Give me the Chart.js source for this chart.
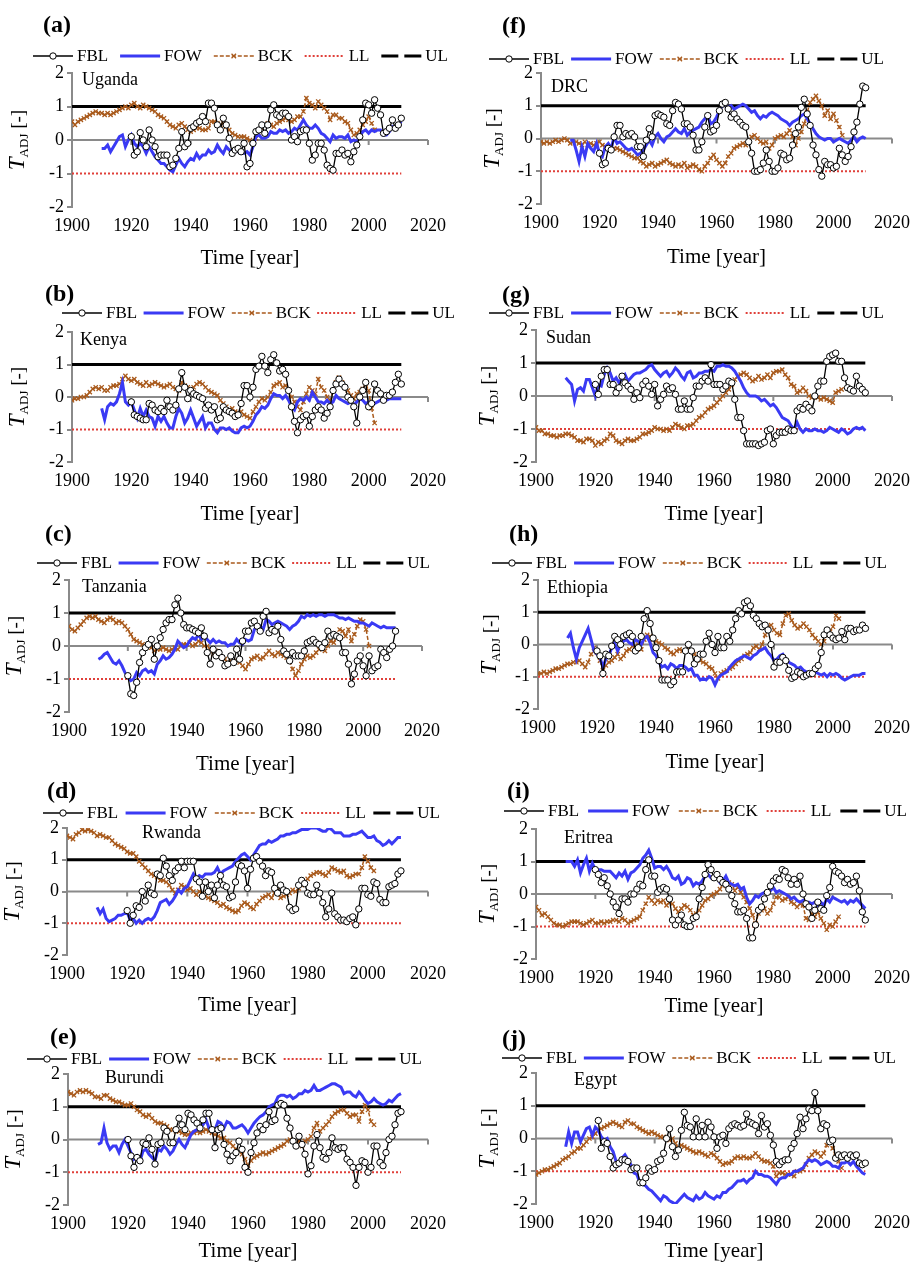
<!DOCTYPE html>
<html>
<head>
<meta charset="utf-8">
<script src="https://cdn.jsdelivr.net/npm/chart.js@4.4.1/dist/chart.umd.min.js"></script>
<style>
  html, body { margin: 0; padding: 0; background: #fff; }
  #page { position: relative; width: 918px; height: 1264px; overflow: hidden; }
  #page canvas { position: absolute; }
</style>
</head>
<body>
<div id="page"></div>
<script>
// ---- data ----
const PANEL_LETTERS = ['a', 'b', 'c', 'd', 'e', 'f', 'g', 'h', 'i', 'j'];
const COUNTRIES = ['Uganda', 'Kenya', 'Tanzania', 'Rwanda', 'Burundi', 'DRC', 'Sudan', 'Ethiopia', 'Eritrea', 'Egypt'];
const SERIES_NAMES = ['FBL', 'FOW', 'BCK', 'LL', 'UL'];
const X_TICKS = [1900, 1920, 1940, 1960, 1980, 2000, 2020];
const Y_TICKS = [-2, -1, 0, 1, 2];

const FBL_START = [1920, 1920, 1920, 1920, 1920, 1920, 1920, 1920, 1920, 1921];
const FOW_START = 1910;
const BCK_START = 1900;
const LIMIT_YEARS = [1900, 2011];
const LL_VALUES = [-1, -1];
const UL_VALUES = [1, 1];

const UGANDA_FBL = [
  0.1, -0.45, -0.35, 0.22, 0.0, -0.2, 0.3, 0.0, -0.2, -0.5,
  -0.45, -0.45, -0.45, -0.8, -0.75, -0.55, -0.25, 0.25, -0.2, -0.1,
  0.35, 0.4, 0.5, 0.55, 0.7, 0.55, 1.1, 1.1, 0.95, 0.45,
  0.3, 0.65, 0.45, 0.05, -0.4, -0.3, -0.25, -0.35, -0.1, -0.8,
  -0.7, -0.1, 0.25, 0.3, 0.45, 0.2, 0.45, 0.9, 1.05, 0.75,
  0.7, 0.8, 0.8, 0.7, 0.0, 0.1, -0.05, 0.25, 0.3, 0.3,
  -0.1, -0.6, -0.45, -0.1, -0.1, -0.3, -0.75, -0.85, -0.9, -0.4,
  -0.4, -0.3, -0.45, -0.4, -0.65, -0.35, -0.15, 0.1, 0.6, 1.1,
  1.05, 0.8, 1.2, 0.95, 0.75, 0.2, 0.25, 0.35, 0.6, 0.35,
  0.45, 0.65];
const UGANDA_FOW = [
  -0.25, -0.25, -0.15, -0.35, -0.2, -0.05, 0.1, 0.15, -0.2, 0.0,
  0.15, -0.1, -0.2, -0.1, -0.2, -0.4, -0.2, -0.35, -0.5, -0.6,
  -0.7, -0.7, -0.8, -0.9, -0.95, -0.75, -0.55, -0.7, -0.8, -0.65,
  -0.55, -0.6, -0.4, -0.55, -0.45, -0.45, -0.3, -0.4, -0.35, -0.15,
  -0.3, -0.4, -0.2, -0.3, -0.35, -0.3, -0.35, -0.35, -0.4, -0.35,
  -0.45, -0.2, 0.1, 0.15, 0.05, 0.05, 0.1, 0.25, 0.2, 0.2,
  0.3, 0.25, 0.3, 0.2, 0.25, 0.35, 0.3, 0.45, 0.6, 0.45,
  0.35, 0.35, 0.45, 0.35, 0.2, 0.15, 0.05, -0.05, 0.15, 0.05,
  0.1, 0.1, 0.05, 0.15, -0.05, 0.0, -0.05, 0.1, 0.25, 0.3,
  0.2, 0.3, 0.25, 0.3, 0.3, 0.15, 0.15, 0.25, 0.4, 0.35,
  0.45, 0.55];
const UGANDA_BCK = [
  0.55, 0.45, 0.55, 0.6, 0.65, 0.7, 0.75, 0.8, 0.85, 0.8,
  0.8, 0.75, 0.8, 0.75, 0.8, 0.85, 0.9, 0.95, 1.0, 0.95,
  1.05, 1.1, 1.0, 0.95, 1.05, 1.0, 0.95, 0.9, 0.85, 0.75,
  0.7, 0.65, 0.55, 0.45, 0.4, 0.35, 0.45, 0.5, 0.4, 0.3,
  0.25, 0.3, 0.35, 0.35, 0.3, 0.3, 0.35, 0.55, 0.55, 0.5,
  0.45, 0.5, 0.4, 0.3, 0.2, 0.15, 0.1, 0.1, 0.1, 0.05,
  0.0, -0.1, 0.05, 0.2, 0.35, 0.45, 0.5, 0.45, 0.4, 0.5,
  0.55, 0.6, 0.65, 0.6, 0.55, 0.6, 0.7, 0.7, 0.85, 1.25,
  1.1, 1.05, 0.95, 1.15, 1.05, 0.95, 0.85, 0.6, 0.75, 0.75,
  0.65, 0.65, 0.55, 0.5, 0.3, 0.15, 0.2, 0.3, 0.45, 0.55,
  0.7, 0.5, 0.3];

const KENYA_FBL = [
  -0.15, -0.55, -0.6, -0.65, -0.7, -0.7, -0.2, -0.25, -0.4, -0.45,
  -0.35, -0.45, -0.1, -0.3, -0.4, -0.25, 0.25, 0.75, 0.3, -0.05,
  0.2, 0.1, 0.05, 0.0, -0.05, -0.35, -0.25, -0.4, -0.3, -0.7,
  -0.65, -0.3, -0.4, -0.45, -0.5, -0.6, -0.55, -0.2, 0.35, 0.35,
  0.0, 0.3, 0.85, 0.95, 1.25, 0.95, 0.75, 1.15, 1.3, 1.05,
  0.8, 0.85, 0.7, 0.2, -0.3, -0.75, -1.1, -0.7, -0.6, -0.55,
  -0.9, -0.6, -0.4, -0.3, -0.4, -0.65, -0.5, -0.3, 0.2, 0.4,
  0.55, 0.4, 0.3, 0.0, -0.1, -0.3, -0.8, 0.0, 0.2, 0.45,
  -0.3, -0.2, 0.4, 0.2, 0.1, -0.1, 0.05, 0.05, 0.15, 0.45,
  0.7, 0.4];
const KENYA_FOW = [
  -0.35, -0.7, -0.3, -0.2, -0.25, -0.15, 0.1, 0.45, -0.15, -0.25,
  -0.15, -0.4, -0.65, -0.35, -0.6, -0.4, -0.6, -0.65, -0.9, -0.6,
  -0.75, -0.6, -0.8, -0.95, -0.95, -0.6, -0.35, -0.5, -0.8, -0.65,
  -0.4, -0.65, -0.9, -0.75, -0.6, -0.95, -0.8, -0.8, -1.0, -1.1,
  -0.95, -0.95, -1.0, -0.95, -1.05, -1.1, -1.1, -0.95, -0.9, -0.95,
  -0.9, -0.75, -0.55, -0.45, -0.3, -0.35, -0.25, -0.05, 0.1, 0.05,
  0.05, -0.05, 0.05, -0.1, -0.3, -0.4, -0.15, -0.05, -0.1, 0.0,
  -0.1, 0.15, 0.0, -0.15, -0.15, -0.2, -0.1, -0.2, -0.15, 0.05,
  -0.05, -0.1, -0.15, -0.2, -0.15, -0.25, -0.15, -0.05, -0.1, -0.2,
  -0.15, -0.2, -0.2, -0.15, -0.1, -0.15, -0.1, -0.05, -0.05, -0.05,
  -0.05, -0.05];
const KENYA_BCK = [
  -0.1, -0.05, -0.05, 0.0, 0.0, 0.05, 0.15, 0.25, 0.3, 0.25,
  0.3, 0.2, 0.2, 0.3, 0.35, 0.35, 0.4, 0.55, 0.65, 0.55,
  0.5, 0.55, 0.45, 0.4, 0.35, 0.45, 0.35, 0.4, 0.45, 0.4,
  0.35, 0.3, 0.35, 0.4, 0.3, 0.25, 0.2, 0.45, 0.35, 0.3,
  0.25, 0.3, 0.4, 0.45, 0.4, 0.3, 0.2, 0.15, 0.1, 0.05,
  -0.1, -0.2, -0.3, -0.4, -0.35, -0.45, -0.5, -0.45, -0.55, -0.6,
  -0.65, -0.45, -0.3, -0.15, -0.05, -0.1, 0.0, 0.15, 0.35, 0.4,
  0.45, 0.3, 0.35, 0.2, 0.0, -0.15, -0.3, -0.4, -0.15, 0.1,
  0.3, 0.2, 0.1, 0.55, 0.3, 0.2, 0.0, -0.1, 0.2, 0.45,
  0.6, 0.45, 0.3, 0.2, 0.05, -0.05, 0.1, 0.15, 0.25, 0.4,
  0.2, -0.35, -0.8];

const TANZANIA_FBL = [
  -0.9, -1.45, -1.5, -1.1, -0.5, -0.2, -0.05, 0.05, 0.2, -0.4,
  0.0, 0.25, 0.5, 0.7, 0.8, 0.8, 1.25, 1.45, 1.0, 0.65,
  0.55, 0.55, 0.5, 0.45, 0.4, 0.55, 0.3, -0.2, -0.55, -0.1,
  -0.3, -0.2, -0.35, -0.6, -0.55, -0.3, -0.5, -0.1, -0.4, 0.15,
  0.45, 0.45, 0.7, 0.75, 0.6, 0.45, 0.9, 1.05, 0.4, 0.5,
  0.45, 0.6, 0.2, -0.15, -0.25, -0.45, -0.2, -0.3, -0.3, -0.3,
  -0.15, 0.1, 0.15, 0.2, 0.1, 0.05, -0.05, 0.1, 0.45, 0.3,
  0.35, 0.3, 0.25, -0.2, -0.2, -0.55, -1.15, -0.85, -0.45, -0.3,
  -0.6, -0.9, -0.3, -0.75, -0.65, -0.6, -0.1, -0.2, -0.35, -0.1,
  0.0, 0.45];
const TANZANIA_FOW = [
  -0.4, -0.35, -0.25, -0.2, -0.35, -0.5, -0.55, -0.45, -0.6, -0.8,
  -0.95, -1.05, -1.0, -0.8, -0.9, -0.75, -0.7, -0.8, -0.75, -0.85,
  -0.55, -0.45, -0.3, -0.4, -0.35, -0.25, -0.1, 0.15, 0.05, -0.05,
  0.0, 0.15, 0.25, 0.2, 0.35, 0.2, 0.3, 0.2, 0.1, 0.2,
  0.1, 0.15, 0.1, 0.1, 0.0, 0.05, 0.05, 0.2, 0.1, 0.05,
  0.2, 0.15, 0.2, 0.5, 0.55, 0.6, 0.5, 0.8, 0.75, 0.65,
  0.7, 0.75, 0.7, 0.65, 0.6, 0.5, 0.6, 0.65, 0.75, 0.9,
  0.85, 0.95, 0.9, 0.95, 0.9, 0.95, 0.95, 0.9, 0.95, 0.95,
  0.95, 0.9, 0.85, 0.85, 0.8, 0.85, 0.8, 0.75, 0.75, 0.7,
  0.7, 0.65, 0.6, 0.7, 0.65, 0.6, 0.55, 0.6, 0.55, 0.55,
  0.55, 0.55];
const TANZANIA_BCK = [
  0.6, 0.5, 0.45, 0.55, 0.65, 0.75, 0.85, 0.9, 0.85, 0.9,
  0.8, 0.75, 0.7, 0.8, 0.85, 0.8, 0.7, 0.75, 0.7, 0.6,
  0.5, 0.35, 0.2, 0.15, 0.1, 0.05, 0.0, 0.05, -0.05, -0.15,
  -0.1, -0.1, -0.05, -0.1, -0.15, -0.1, -0.05, -0.1, 0.0, 0.05,
  0.05, 0.1, 0.0, 0.05, 0.15, 0.1, 0.0, 0.0, -0.1, -0.25,
  -0.15, -0.25, -0.35, -0.4, -0.5, -0.45, -0.5, -0.45, -0.5, -0.6,
  -0.7, -0.55, -0.4, -0.35, -0.3, -0.4, -0.35, -0.25, -0.15, -0.25,
  -0.3, -0.2, -0.25, -0.3, -0.35, -0.45, -0.7, -0.9, -0.75, -0.55,
  -0.4, -0.3, -0.35, -0.3, -0.2, -0.1, -0.05, -0.15, 0.0, 0.15,
  0.1, 0.3, 0.5, 0.45, 0.3, 0.5, 0.15, 0.35, 0.6, 0.8,
  0.75, 0.5, 0.0];

const RWANDA_FBL = [
  -0.6, -1.0, -0.75, -0.45, -0.5, 0.0, -0.3, 0.2, -0.05, -0.1,
  0.55, 0.5, 1.05, 0.8, 0.5, 0.35, 0.65, 0.75, 0.95, 0.75,
  0.95, 0.95, 0.95, 0.4, 0.3, -0.15, 0.3, 0.0, 0.2, -0.2,
  0.2, 0.5, 0.2, 0.15, -0.2, -0.15, 0.3, 0.85, 0.8, 0.65,
  0.1, 0.7, 1.05, 1.1, 0.95, 0.8, 0.5, 0.65, 0.6, 0.1,
  -0.05, 0.2, 0.05, 0.0, -0.5, -0.6, -0.55, 0.2, 0.35, 0.25,
  -0.05, -0.1, -0.1, 0.2, -0.05, -0.35, -0.8, -0.55, -0.05, -0.7,
  -0.8, -0.9, -0.9, -0.95, -0.85, -0.8, -1.05, -0.55, 0.1, 0.1,
  -0.1, -0.15, 0.3, 0.25, -0.25, -0.35, -0.35, 0.15, 0.2, 0.25,
  0.55, 0.65];
const RWANDA_FOW = [
  -0.5, -0.7, -0.55, -0.85, -0.95, -0.9, -0.85, -0.75, -0.75, -0.7,
  -0.65, -0.9, -0.85, -1.0, -0.9, -1.0, -0.9, -0.85, -0.9, -0.8,
  -0.6, -0.35, -0.3, -0.25, -0.4, -0.3, -0.15, 0.05, -0.05, 0.1,
  0.15, 0.35, 0.55, 0.4, 0.5, 0.45, 0.55, 0.55, 0.55, 0.6,
  0.75, 0.55, 0.65, 0.7, 0.75, 0.8, 0.95, 1.05, 1.15, 1.2,
  1.1, 1.0, 1.15, 1.3, 1.45, 1.5, 1.5, 1.6, 1.55, 1.6,
  1.65, 1.75, 1.75, 1.8, 1.8, 1.85, 1.85, 1.9, 1.95, 1.95,
  1.95, 2.0, 2.0, 2.0, 1.95, 1.9, 1.9, 2.0, 1.95, 1.85,
  1.85, 1.85, 1.75, 1.75, 1.75, 1.8, 1.8, 1.85, 1.9, 1.8,
  1.7, 1.7, 1.75, 1.6, 1.55, 1.45, 1.5, 1.6, 1.5, 1.6,
  1.7, 1.7];
const RWANDA_BCK = [
  1.75, 1.7, 1.65, 1.8, 1.85, 1.95, 1.9, 1.95, 1.9, 1.85,
  1.75, 1.8, 1.75, 1.7, 1.7, 1.6, 1.5, 1.45, 1.4, 1.35,
  1.25, 1.2, 1.2, 1.1, 0.95, 0.85, 0.75, 0.65, 0.55, 0.5,
  0.45, 0.35, 0.35, 0.3, 0.2, 0.05, -0.05, 0.05, 0.2, 0.15,
  0.05, 0.1, 0.0, -0.1, 0.0, -0.05, -0.15, -0.2, -0.25, -0.3,
  -0.35, -0.45, -0.4, -0.5, -0.55, -0.6, -0.65, -0.6, -0.45, -0.35,
  -0.4, -0.5, -0.55, -0.4, -0.3, -0.2, -0.15, -0.1, -0.2, -0.05,
  0.05, -0.2, -0.15, -0.1, -0.05, 0.05, 0.0, 0.1, 0.2, 0.3,
  0.4, 0.5, 0.55, 0.6, 0.6, 0.55, 0.5, 0.6, 0.75, 0.7,
  0.65, 0.6, 0.65, 0.5, 0.45, 0.5, 0.55, 0.55, 0.75, 1.1,
  0.95, 0.75, 0.65];

const BURUNDI_FBL = [
  0.0, -0.5, -0.85, -0.55, -0.65, -0.1, -0.15, 0.05, -0.3, -0.75,
  -0.15, -0.1, 0.35, 0.25, -0.1, -0.1, 0.3, 0.65, 0.45, 0.3,
  0.8, 0.75, 0.6, 0.5, 0.35, 0.6, 0.8, 0.8, 0.3, -0.25,
  0.3, 0.35, -0.15, -0.45, -0.65, -0.5, -0.4, -0.05, -0.3, -0.85,
  -1.0, -0.4, -0.1, 0.2, 0.4, 0.3, 0.45, 0.85, 0.55, 0.6,
  1.05, 1.1, 1.05, 0.65, 0.35, -0.05, -0.2, 0.1, -0.15, -0.45,
  -1.05, -0.8, -0.2, 0.15, -0.25, -0.55, -0.6, -0.4, 0.05, -0.25,
  -0.3, -0.25, -0.25, -0.6, -0.7, -0.85, -1.4, -0.85, -0.65, -0.7,
  -1.0, -0.85, -0.2, -0.2, -0.7, -0.8, -0.4, 0.0, 0.1, 0.45,
  0.8, 0.85];
const BURUNDI_FOW = [
  -0.15, -0.1, 0.35, -0.1, -0.3, -0.2, -0.2, -0.4, -0.15, 0.0,
  -0.2, -0.4, -0.6, -0.5, -0.65, -0.35, -0.3, -0.45, -0.55, -0.65,
  -0.3, -0.35, -0.2, -0.3, -0.45, -0.35, -0.15, 0.0, -0.15, -0.25,
  -0.05, 0.15, 0.25, 0.3, 0.3, 0.45, 0.6, 0.35, 0.25, 0.3,
  0.55, 0.5, 0.35, 0.55, 0.5, 0.35, 0.35, 0.4, 0.45, 0.35,
  0.2, 0.35, 0.5, 0.6, 0.7, 0.75, 0.85, 1.0, 1.05, 1.1,
  1.3, 1.35, 1.35, 1.3, 1.35, 1.25, 1.3, 1.4, 1.4, 1.5,
  1.45, 1.5, 1.65, 1.5, 1.5, 1.55, 1.6, 1.65, 1.7, 1.7,
  1.65, 1.6, 1.4, 1.45, 1.45, 1.35, 1.3, 1.45, 1.35, 1.2,
  1.1, 1.15, 1.25, 1.15, 1.1, 1.05, 1.1, 1.2, 1.15, 1.25,
  1.35, 1.4];
const BURUNDI_BCK = [
  1.45, 1.4, 1.35, 1.45, 1.5, 1.45, 1.5, 1.45, 1.4, 1.3,
  1.3, 1.25, 1.35, 1.35, 1.25, 1.2, 1.15, 1.15, 1.1, 1.05,
  1.05, 1.1, 1.0, 0.9, 0.85, 0.75, 0.7, 0.75, 0.65, 0.55,
  0.5, 0.5, 0.45, 0.4, 0.3, 0.3, 0.25, 0.25, 0.2, 0.15,
  0.15, 0.2, 0.2, 0.25, 0.2, 0.25, 0.3, 0.25, 0.2, 0.15,
  0.1, 0.05, 0.05, -0.05, -0.1, -0.2, -0.3, -0.35, -0.45, -0.6,
  -0.8, -0.65, -0.55, -0.5, -0.45, -0.4, -0.45, -0.4, -0.35, -0.3,
  -0.25, -0.2, -0.15, -0.05, 0.0, -0.05, -0.1, -0.05, -0.2, -0.05,
  0.0, 0.1, 0.35, 0.5, 0.25, 0.35, 0.45, 0.55, 0.7, 0.8,
  0.85, 0.9, 0.9, 0.8, 0.7, 0.75, 0.75, 0.55, 0.85, 1.05,
  0.9, 0.55, 0.45];

const DRC_FBL = [
  -0.45, -0.8, -0.75, -0.3, -0.35, 0.05, 0.4, 0.4, 0.05, 0.15,
  0.1, 0.15, 0.05, -0.25, -0.25, -0.55, -0.05, 0.3, 0.05, 0.7,
  0.75, 0.7, 0.65, 0.45, 0.4, 0.85, 1.1, 1.05, 0.9, 0.45,
  0.45, 0.35, 0.1, -0.35, -0.35, -0.1, 0.35, 0.7, 0.2, 0.25,
  0.4, 0.85, 1.05, 1.1, 0.9, 0.65, 0.75, 0.6, 0.5, 0.4,
  0.35, -0.1, -0.45, -1.0, -1.0, -0.95, -0.75, -0.35, -0.7, -1.0,
  -1.0, -0.9, -0.45, -0.5, -0.65, -0.6, -0.2, 0.15, 0.35, 0.95,
  1.2, 0.75, 0.4, -0.2, -0.5, -0.95, -1.15, -0.7, -0.8, -0.8,
  -0.9, -0.85, -0.3, -0.5, -0.7, -0.55, -0.25, 0.2, 0.5, 1.05,
  1.6, 1.55];
const DRC_FOW = [
  -0.05, -0.05, -0.35, -0.7, -0.25, -0.55, -0.15, -0.3, -0.4, -0.15,
  -0.45, -0.55, -0.25, -0.15, -0.3, 0.05, -0.15, -0.1, -0.2, -0.3,
  -0.35, -0.3, -0.4, -0.5, -0.45, -0.35, -0.2, -0.05, -0.2, 0.05,
  0.15, 0.0, -0.1, 0.05, 0.1, 0.2, 0.3, 0.2, 0.15, 0.3,
  0.1, 0.2, 0.25, 0.3, 0.35, 0.5, 0.6, 0.7, 0.45, 0.5,
  0.65, 0.85, 1.0, 1.05, 0.95, 1.0, 0.9, 0.95, 1.0, 1.05,
  1.0, 0.9, 0.8, 0.85, 0.7, 0.6, 0.7, 0.65, 0.75, 0.8,
  0.75, 0.7, 0.6, 0.55, 0.5, 0.4, 0.5, 0.55, 0.6, 0.7,
  0.75, 0.6, 0.45, 0.3, 0.15, 0.05, 0.0, -0.05, 0.0, 0.0,
  -0.1, -0.05, 0.0, -0.05, -0.1, -0.15, -0.05, 0.05, -0.1, 0.0,
  0.05, 0.0];
const DRC_BCK = [
  -0.1, -0.15, -0.1, -0.15, -0.1, -0.05, -0.1, -0.05, 0.0, -0.05,
  -0.15, -0.1, -0.1, -0.15, -0.2, -0.1, -0.2, -0.15, -0.2, -0.15,
  -0.1, -0.2, -0.25, -0.3, -0.25, -0.3, -0.3, -0.35, -0.4, -0.45,
  -0.5, -0.55, -0.6, -0.6, -0.7, -0.75, -0.85, -0.8, -0.75, -0.85,
  -0.8, -0.75, -0.7, -0.65, -0.75, -0.8, -0.85, -0.8, -0.85, -0.75,
  -0.9, -0.85, -0.8, -0.85, -0.95, -1.0, -0.85, -0.75, -0.6, -0.5,
  -0.65, -0.75, -0.85, -0.75, -0.55, -0.45, -0.3, -0.25, -0.2, -0.15,
  -0.2, -0.1, 0.05, 0.1, 0.0, -0.1, -0.15, -0.1, -0.3, -0.2,
  0.0, 0.05, 0.1, 0.05, 0.15, 0.25, 0.05, -0.2, 0.0, 0.2,
  0.45, 0.8, 1.1, 1.2, 1.3, 1.15, 1.0, 0.7, 0.85, 0.6,
  0.75, 0.55, 0.35, 0.1];

const SUDAN_FBL = [
  0.35, 0.05, 0.6, 0.8, 0.8, 0.35, 0.35, 0.1, 0.25, 0.6,
  0.4, 0.3, 0.2, -0.1, 0.1, -0.05, 0.35, 0.45, 0.3, 0.05,
  0.35, -0.3, -0.1, 0.05, 0.3, 0.2, 0.25, 0.05, -0.4, -0.4,
  -0.15, -0.4, -0.4, -0.05, 0.3, 0.3, 0.45, 0.55, 0.45, 0.95,
  0.35, 0.35, 0.35, 0.2, 0.3, 0.45, 0.4, -0.1, -0.65, -0.65,
  -1.05, -1.45, -1.45, -1.45, -1.45, -1.5, -1.45, -1.4, -1.05, -1.0,
  -1.45, -1.2, -1.1, -1.1, -1.1, -1.0, -1.05, -1.05, -0.45, -0.35,
  -0.4, -0.25, -0.35, -0.45, 0.0, 0.3, 0.45, 0.45, 1.05, 1.2,
  1.25, 1.3, 1.05, 1.05, 0.55, 0.25, 0.2, 0.15, 0.6, 0.3,
  0.2, 0.1];
const SUDAN_FOW = [
  0.55, 0.45, 0.35, -0.15, 0.2, 0.25, 0.15, 0.5, 0.5, 0.25,
  0.0, 0.35, 0.3, 0.65, 0.85, 0.7, 0.45, 0.55, 0.4, 0.55,
  0.65, 0.45, 0.55, 0.65, 0.7, 0.7, 0.75, 0.8, 0.9, 0.95,
  0.8, 0.7, 0.6, 0.7, 0.75, 0.6, 0.7, 0.85, 0.75, 0.6,
  0.5, 0.7, 0.75, 0.55, 0.6, 0.7, 0.7, 0.75, 0.75, 0.8,
  0.75, 0.9, 0.9, 0.95, 0.9, 0.9, 0.85, 0.75, 0.6, 0.45,
  0.25, 0.1, 0.0, 0.0, 0.0, -0.05, -0.15, -0.1, -0.2, -0.3,
  -0.25, -0.35, -0.5, -0.65, -0.7, -0.75, -0.9, -1.0, -0.8, -1.0,
  -1.1, -1.0, -1.05, -1.05, -1.0, -1.05, -1.05, -1.1, -1.05, -0.95,
  -1.0, -1.05, -1.1, -1.0, -1.05, -1.15, -1.1, -1.0, -0.95, -1.0,
  -0.95, -1.05];
const SUDAN_BCK = [
  -0.95, -1.05, -1.05, -1.15, -1.15, -1.2, -1.2, -1.25, -1.2, -1.2,
  -1.15, -1.15, -1.2, -1.25, -1.35, -1.35, -1.4, -1.3, -1.3, -1.35,
  -1.5, -1.4, -1.45, -1.35, -1.3, -1.15, -1.2, -1.35, -1.4, -1.45,
  -1.35, -1.3, -1.35, -1.35, -1.3, -1.25, -1.15, -1.15, -1.1, -1.05,
  -0.95, -1.0, -1.0, -1.05, -1.0, -1.05, -0.95, -0.85, -0.9, -0.95,
  -1.0, -0.9, -0.9, -0.85, -0.75, -0.65, -0.6, -0.5, -0.4, -0.35,
  -0.3, -0.2, -0.1, 0.0, 0.1, 0.2, 0.35, 0.5, 0.6, 0.65,
  0.7, 0.65, 0.55, 0.45, 0.5, 0.6, 0.5, 0.55, 0.65, 0.55,
  0.7, 0.75, 0.75, 0.8, 0.65, 0.55, 0.35, 0.3, 0.1, 0.15,
  0.25, 0.15, 0.0, -0.05, 0.0, -0.05, -0.1, -0.05, -0.1, -0.15,
  -0.2, 0.1, 0.15, 0.2];

const ETHIOPIA_FBL = [
  -0.2, -0.35, -0.9, -0.3, -0.35, -0.05, 0.25, 0.15, 0.0, 0.25,
  0.3, 0.35, 0.25, -0.2, -0.1, 0.25, 0.8, 1.05, 0.65, 0.2,
  -0.1, -0.5, -1.1, -1.1, -1.1, -1.25, -1.15, -0.85, -0.85, -0.85,
  -0.2, 0.0, -0.2, -0.6, -0.45, -0.3, -0.3, 0.1, 0.35, 0.0,
  -0.25, 0.25, -0.1, -0.1, 0.25, 0.1, 0.45, 0.8, 1.05, 0.95,
  1.3, 1.35, 1.2, 0.9, 0.8, 0.65, 0.55, 0.6, 0.45, 0.0,
  -0.7, -0.55, -0.55, -0.4, -0.5, -0.8, -1.05, -1.0, -0.85, -0.9,
  -1.0, -0.95, -0.9, -0.9, -0.75, -0.65, -0.25, 0.3, 0.45, 0.3,
  0.2, 0.15, 0.2, 0.4, 0.15, 0.5, 0.5, 0.4, 0.45, 0.45,
  0.6, 0.5];
const ETHIOPIA_FOW = [
  0.2, 0.35, -0.1, -0.45, -0.1, 0.1, 0.3, 0.5, 0.15, -0.2,
  -0.3, -0.4, -0.7, -0.45, -0.35, -0.1, 0.05, -0.2, 0.0, 0.1,
  0.15, 0.05, 0.0, 0.15, 0.1, 0.0, 0.2, 0.25, 0.05, -0.25,
  -0.35, -0.55, -0.7, -0.65, -0.75, -0.6, -0.65, -0.75, -0.65, -0.65,
  -0.7, -0.8, -0.75, -0.95, -0.95, -1.1, -1.05, -1.1, -1.0, -1.05,
  -1.25, -1.05, -0.95, -0.9, -0.85, -0.7, -0.6, -0.5, -0.45, -0.4,
  -0.35, -0.4, -0.45, -0.35, -0.3, -0.2, -0.15, -0.1, -0.25, -0.35,
  -0.5, -0.45, -0.35, -0.3, -0.45, -0.55, -0.6, -0.65, -0.75, -0.7,
  -0.8, -0.85, -0.9, -0.9, -0.85, -0.9, -0.95, -0.9, -1.0, -0.9,
  -0.95, -0.9, -0.95, -1.05, -1.1, -1.05, -1.0, -0.95, -0.95, -0.95,
  -0.9, -0.9];
const ETHIOPIA_BCK = [
  -0.9, -0.9, -0.85, -0.9, -0.85, -0.8, -0.75, -0.75, -0.7, -0.65,
  -0.6, -0.6, -0.55, -0.55, -0.5, -0.6, -0.7, -0.55, -0.3, -0.1,
  -0.25, -0.5, -0.8, -0.65, -0.55, -0.5, -0.4, -0.3, -0.45, -0.35,
  -0.2, -0.15, -0.05, -0.05, 0.0, -0.15, 0.15, 0.3, 0.25, 0.15,
  0.1, 0.05, 0.0, -0.1, -0.15, -0.25, -0.3, -0.2, -0.15, -0.2,
  -0.2, -0.1, -0.2, -0.3, -0.4, -0.5, -0.55, -0.6, -0.7, -0.75,
  -0.9, -1.05, -0.9, -0.85, -0.8, -0.75, -0.7, -0.6, -0.5, -0.45,
  -0.35, -0.3, -0.25, -0.1, -0.05, -0.15, 0.0, 0.3, 0.55, 0.6,
  0.45, 0.35, 0.3, 0.65, 0.9, 0.95, 0.75, 0.6, 0.5, 0.55,
  0.65, 0.55, 0.45, 0.3, 0.2, 0.1, 0.0, 0.1, 0.3, 0.4,
  0.55, 0.9, 0.8];

const ERITREA_FBL = [
  0.75, 0.6, 0.35, 0.5, 0.25, 0.0, -0.25, -0.4, -0.6, -0.15,
  -0.15, -0.25, 0.0, 0.0, 0.15, 0.3, 0.25, 0.75, 1.05, 0.55,
  0.55, 0.05, 0.15, 0.2, 0.15, -0.15, -0.8, -0.95, -0.8, -0.65,
  -0.95, -1.0, -1.0, -0.75, -0.7, -0.15, 0.2, 0.6, 0.9, 0.75,
  0.5, 0.6, 0.45, 0.35, 0.3, 0.15, -0.05, -0.3, -0.55, -0.55,
  -0.5, -0.75, -1.35, -1.35, -0.95, -0.5, -0.4, -0.15, 0.05, 0.25,
  0.4, 0.5, 0.45, 0.75, 0.7, 0.5, 0.3, 0.45, 0.3, 0.55,
  0.0, -0.3, -0.4, -0.75, -0.5, -0.25, -0.45, -0.5, -0.05, 0.2,
  0.85, 0.7, 0.65, 0.55, 0.35, 0.45, 0.3, 0.35, 0.55, 0.1,
  -0.55, -0.8];
const ERITREA_FOW = [
  1.0, 1.0, 1.0, 0.85, 1.05, 0.65, 0.9, 1.1, 0.7, 0.95,
  0.75, 0.75, 0.75, 0.7, 0.7, 0.7, 0.6, 0.5, 0.65, 0.55,
  0.7, 0.45, 0.65, 0.7, 0.8, 0.9, 1.1, 1.2, 1.35, 1.1,
  0.8, 0.85, 0.85, 0.75, 0.85, 0.7, 0.5, 0.45, 0.55, 0.3,
  0.35, 0.5, 0.45, 0.25, 0.35, 0.3, 0.4, 0.55, 0.6, 0.5,
  0.55, 0.5, 0.35, 0.4, 0.55, 0.35, 0.3, 0.25, 0.3, 0.15,
  0.2, -0.1, -0.3, -0.2, -0.05, -0.1, 0.0, 0.05, 0.05, 0.1,
  0.2, 0.05, 0.1, 0.05, 0.0, -0.05, -0.15, -0.1, -0.2, -0.25,
  -0.2, -0.3, -0.25, -0.3, -0.25, -0.35, -0.25, -0.35, -0.15, -0.25,
  -0.1, -0.15, -0.2, -0.25, -0.2, -0.3, -0.2, -0.25, -0.15, -0.25,
  -0.35, -0.45];
const ERITREA_BCK = [
  -0.4, -0.5, -0.65, -0.6, -0.7, -0.8, -0.9, -0.95, -0.95, -1.0,
  -0.95, -0.9, -0.85, -0.85, -0.85, -0.9, -0.95, -0.9, -0.85, -0.8,
  -0.9, -0.9, -0.85, -0.9, -0.85, -0.85, -0.8, -0.8, -0.85, -0.75,
  -0.8, -0.9, -0.85, -0.8, -0.75, -0.7, -0.5, -0.3, -0.1, -0.2,
  -0.3, -0.2, -0.25, -0.2, -0.35, -0.25, -0.3, -0.45, -0.55, -0.45,
  -0.35, -0.4, -0.5, -0.65, -0.6, -0.5, -0.35, -0.2, -0.15, -0.05,
  0.0, 0.05, 0.15, 0.3, 0.25, 0.35, 0.3, 0.1, 0.2, 0.05,
  -0.1, -0.25, -0.45, -0.65, -0.9, -0.6, -0.5, -0.45, -0.6, -0.5,
  -0.3, -0.1, -0.1, -0.2, -0.15, -0.1, -0.25, -0.3, -0.4, -0.3,
  -0.35, -0.75, -0.8, -0.6, -0.7, -0.55, -0.75, -0.9, -1.1, -0.95,
  -1.0, -0.85, -0.7];

const EGYPT_FBL = [
  0.55, -0.3, -0.1, -0.15, -0.55, -0.9, -0.8, -0.75, -0.65,
  -0.65, -0.7, -0.95, -0.9, -0.9, -1.35, -1.35, -1.2, -0.9, -1.0,
  -0.95, -0.7, -0.65, -0.45, 0.0, 0.3, -0.25, -0.55, -0.35, 0.25,
  0.8, 0.4, 0.35, 0.05, 0.6, 0.05, 0.4, 0.05, 0.5, 0.35,
  0.05, -0.3, 0.05, 0.1, -0.15, 0.3, 0.4, 0.45, 0.4, 0.35,
  0.4, 0.75, 0.5, 0.45, 0.4, 0.15, 0.7, 0.35, 0.45, 0.1,
  -0.2, -0.7, -0.8, -0.7, -0.65, -0.65, -0.3, -0.15, 0.15, 0.65,
  0.3, 0.6, 0.9, 0.85, 1.4, 0.85, 0.3, 0.45, 0.4, -0.1,
  -0.05, -0.6, -0.5, -0.55, -0.5, -0.6, -0.5, -0.55, -0.5, -0.75,
  -0.8, -0.75];
const EGYPT_FOW = [
  -0.25, 0.2, -0.15, 0.2, 0.2, -0.1, 0.1, 0.3, 0.35, 0.1,
  0.35, 0.25, 0.05, -0.05, 0.0, -0.25, -0.4, -0.7, -0.8, -0.6,
  -0.5, -0.65, -0.8, -1.05, -1.1, -1.35, -1.4, -1.45, -1.55, -1.6,
  -1.7, -1.8, -1.9, -1.75, -1.8, -1.9, -1.95, -2.0, -1.9, -1.8,
  -1.7, -1.8, -1.85, -1.9, -1.75, -1.85, -1.8, -1.65, -1.75, -1.8,
  -1.85, -1.75, -1.8, -1.65, -1.65, -1.55, -1.5, -1.4, -1.3, -1.3,
  -1.25, -1.35, -1.25, -1.2, -1.0, -1.1, -1.1, -1.15, -1.15, -1.2,
  -1.3, -1.4, -1.25, -1.2, -1.2, -1.1, -1.1, -1.0, -1.0, -0.95,
  -0.9, -0.75, -0.65, -0.7, -0.65, -0.7, -0.8, -0.75, -0.7, -0.75,
  -0.85, -0.85, -0.9, -0.75, -0.75, -0.7, -0.8, -0.7, -0.85, -0.95,
  -1.05, -1.1];
const EGYPT_BCK = [
  -1.1, -1.05, -1.0, -0.95, -0.95, -0.9, -0.85, -0.8, -0.75, -0.65,
  -0.6, -0.55, -0.45, -0.4, -0.3, -0.3, -0.2, -0.1, 0.0, 0.05,
  0.15, 0.25, 0.3, 0.35, 0.4, 0.45, 0.5, 0.45, 0.4, 0.35,
  0.5, 0.55, 0.45, 0.45, 0.35, 0.3, 0.25, 0.2, 0.15, 0.2,
  0.15, 0.1, 0.05, 0.05, 0.0, -0.05, 0.0, -0.15, -0.3, -0.2,
  -0.25, -0.3, -0.35, -0.4, -0.45, -0.4, -0.45, -0.5, -0.55, -0.45,
  -0.5, -0.6, -0.7, -0.8, -0.75, -0.75, -0.7, -0.6, -0.55, -0.6,
  -0.55, -0.6, -0.6, -0.55, -0.45, -0.55, -0.65, -0.7, -0.7, -0.75,
  -0.85, -1.15, -1.05, -1.05, -1.1, -1.1, -1.1, -1.15, -1.0, -1.0,
  -0.95, -0.8, -0.6, -0.5, -0.4, -0.45, -0.55, -0.45, -0.2, -0.1,
  -0.3, -0.55, -0.7, -0.9];

const FBL = [UGANDA_FBL, KENYA_FBL, TANZANIA_FBL, RWANDA_FBL, BURUNDI_FBL, DRC_FBL, SUDAN_FBL, ETHIOPIA_FBL, ERITREA_FBL, EGYPT_FBL];
const FOW = [UGANDA_FOW, KENYA_FOW, TANZANIA_FOW, RWANDA_FOW, BURUNDI_FOW, DRC_FOW, SUDAN_FOW, ETHIOPIA_FOW, ERITREA_FOW, EGYPT_FOW];
const BCK = [UGANDA_BCK, KENYA_BCK, TANZANIA_BCK, RWANDA_BCK, BURUNDI_BCK, DRC_BCK, SUDAN_BCK, ETHIOPIA_BCK, ERITREA_BCK, EGYPT_BCK];

// ---- layout (page pixels) ----
const ROW_TOP = [0, 270, 520, 770, 1015];
const ROW_H = [270, 250, 250, 245, 249];
const OVERHANG = 24; // canvases overlap the next row so the axis titles are not cut
// area: [left, top, right, bottom] of plot; title/label: [x, y]; legend: [x start, x end, y]; time: gap below plot
const LAYOUT = [
  { area: [72, 73, 428, 207],   title: [43, 26],   legend: [33, 448, 56],    label: [82, 80],   time: 51 },
  { area: [72, 332, 428, 462],  title: [45, 295],  legend: [62, 455, 313],   label: [80, 340],  time: 52 },
  { area: [69, 580, 422, 712],  title: [45, 535],  legend: [37, 430, 563],   label: [82, 587],  time: 52 },
  { area: [67, 828, 428, 955],  title: [47, 792],  legend: [43, 440, 813],   label: [142, 833], time: 50 },
  { area: [68, 1074, 428, 1205], title: [50, 1038], legend: [27, 422, 1059], label: [105, 1078], time: 46 },
  { area: [541, 73, 896, 204],  title: [502, 27],  legend: [489, 884, 59],   label: [551, 87],  time: 53 },
  { area: [536, 330, 896, 462], title: [502, 296], legend: [489, 884, 313],  label: [546, 338], time: 52 },
  { area: [538, 580, 896, 709], title: [509, 535], legend: [492, 887, 563],  label: [547, 588], time: 53 },
  { area: [536, 829, 896, 959], title: [507, 792], legend: [504, 907, 811],  label: [564, 838], time: 47 },
  { area: [536, 1073, 896, 1204], title: [502, 1040], legend: [502, 896, 1058], label: [574, 1080], time: 47 }
];

const SERIF = '"Liberation Serif", "Times New Roman", Times, serif';
const AXIS_GRAY = '#8a8a8a';
const BROWN = '#a95a1c';
const Y_AXIS_W = 32;
const X_AXIS_H = 30;
const SAMPLE = 40;

Chart.defaults.font.family = SERIF;
Chart.defaults.color = '#000';

function toPoints(values, start) {
  return values.map((v, i) => ({ x: start + i, y: v }));
}

function limitPoints(values) {
  return LIMIT_YEARS.map((yr, i) => ({ x: yr, y: values[i] }));
}

function buildDatasets(k) {
  return [
    {
      label: SERIES_NAMES[0], data: toPoints(FBL[k], FBL_START[k]),
      borderColor: '#000', borderWidth: 1.3,
      pointStyle: 'circle', pointRadius: 3.2, pointBorderWidth: 1,
      pointBackgroundColor: '#fff', pointBorderColor: '#000'
    },
    {
      label: SERIES_NAMES[1], data: toPoints(FOW[k], FOW_START),
      borderColor: '#3a3af4', borderWidth: 3, pointRadius: 0
    },
    {
      label: SERIES_NAMES[2], data: toPoints(BCK[k], BCK_START),
      borderColor: BROWN, borderWidth: 1.5, borderDash: [4, 2],
      pointStyle: 'crossRot', pointRadius: 3, pointBorderWidth: 1.3,
      pointBorderColor: BROWN, pointBackgroundColor: BROWN
    },
    {
      label: SERIES_NAMES[3], data: limitPoints(LL_VALUES),
      borderColor: '#e0403a', borderWidth: 2, borderDash: [2, 2], pointRadius: 0
    },
    {
      label: SERIES_NAMES[4], data: limitPoints(UL_VALUES),
      borderColor: '#000', borderWidth: 3, pointRadius: 0, legendDash: [17, 6]
    }
  ];
}

function drawLegend(ctx, chart, L, ox, oy) {
  const sets = chart.data.datasets;
  ctx.font = '17px ' + SERIF;
  const widths = sets.map(d => ctx.measureText(d.label).width);
  const used = widths.reduce((s, w) => s + w, 0) + sets.length * (SAMPLE + 4);
  const gap = (L.legend[1] - L.legend[0] - used) / (sets.length - 1);
  let x = L.legend[0] - ox;
  const y = L.legend[2] - oy;
  sets.forEach((d, i) => {
    ctx.save();
    ctx.strokeStyle = d.borderColor;
    ctx.lineWidth = d.borderWidth;
    ctx.setLineDash(d.legendDash || d.borderDash || []);
    ctx.beginPath();
    ctx.moveTo(x, y);
    ctx.lineTo(x + SAMPLE, y);
    ctx.stroke();
    ctx.setLineDash([]);
    const cx = x + SAMPLE / 2;
    if (d.pointStyle === 'circle') {
      ctx.beginPath();
      ctx.arc(cx, y, d.pointRadius, 0, Math.PI * 2);
      ctx.fillStyle = d.pointBackgroundColor;
      ctx.fill();
      ctx.lineWidth = d.pointBorderWidth;
      ctx.strokeStyle = d.pointBorderColor;
      ctx.stroke();
    } else if (d.pointStyle === 'crossRot') {
      const r = d.pointRadius * 0.75;
      ctx.lineWidth = d.pointBorderWidth;
      ctx.strokeStyle = d.pointBorderColor;
      ctx.beginPath();
      ctx.moveTo(cx - r, y - r); ctx.lineTo(cx + r, y + r);
      ctx.moveTo(cx - r, y + r); ctx.lineTo(cx + r, y - r);
      ctx.stroke();
    }
    ctx.fillStyle = '#000';
    ctx.textAlign = 'left';
    ctx.textBaseline = 'middle';
    ctx.fillText(d.label, x + SAMPLE + 4, y + 1);
    ctx.restore();
    x += SAMPLE + 4 + widths[i] + gap;
  });
}

function drawYTitle(ctx, cx, cy) {
  ctx.save();
  ctx.translate(cx, cy);
  ctx.rotate(-Math.PI / 2);
  ctx.fillStyle = '#000';
  ctx.textAlign = 'left';
  ctx.textBaseline = 'alphabetic';
  const fT = 'italic 23px ' + SERIF, fS = '13px ' + SERIF, fR = '19px ' + SERIF;
  ctx.font = fT; const wT = ctx.measureText('T').width;
  ctx.font = fS; const wS = ctx.measureText('ADJ').width;
  ctx.font = fR; const wR = ctx.measureText(' [-]').width;
  let x = -(wT + wS + wR) / 2;
  ctx.font = fT; ctx.fillText('T', x, 8); x += wT;
  ctx.font = fS; ctx.fillText('ADJ', x, 12); x += wS;
  ctx.font = fR; ctx.fillText(' [-]', x, 8);
  ctx.restore();
}

function decorFor(k, box) {
  const L = LAYOUT[k];
  return {
    id: 'decor' + k,
    beforeDatasetsDraw(chart) {
      const { ctx, chartArea: a, scales: { x, y } } = chart;
      const y0 = y.getPixelForValue(0);
      ctx.save();
      ctx.strokeStyle = AXIS_GRAY;
      ctx.lineWidth = 2;
      ctx.beginPath();
      ctx.moveTo(a.left, y0);
      ctx.lineTo(a.right, y0);
      X_TICKS.forEach(v => {
        const px = x.getPixelForValue(v);
        ctx.moveTo(px, y0);
        ctx.lineTo(px, y0 + 5);
      });
      ctx.stroke();
      ctx.restore();
    },
    afterDraw(chart) {
      const { ctx, chartArea: a, scales: { y } } = chart;
      const y0 = y.getPixelForValue(0);
      ctx.save();
      ctx.fillStyle = '#000';
      ctx.textAlign = 'left';
      ctx.textBaseline = 'middle';
      ctx.font = 'bold 24px ' + SERIF;
      ctx.fillText('(' + PANEL_LETTERS[k] + ')', L.title[0] - box.x, L.title[1] - box.y);
      ctx.font = '18px ' + SERIF;
      ctx.fillText(COUNTRIES[k], L.label[0] - box.x, L.label[1] - box.y);
      ctx.font = '21px ' + SERIF;
      ctx.textAlign = 'center';
      ctx.fillText('Time [year]', (a.left + a.right) / 2, a.bottom + L.time);
      ctx.restore();
      drawLegend(ctx, chart, L, box.x, box.y);
      drawYTitle(ctx, a.left - (k < 5 ? 56 : 50), y0);
    }
  };
}

const page = document.getElementById('page');

PANEL_LETTERS.forEach((letter, k) => {
  const col = k < 5 ? 0 : 1;
  const row = k % 5;
  const box = { x: col * 459, y: ROW_TOP[row], w: 459, h: ROW_H[row] + OVERHANG };
  const L = LAYOUT[k];
  const canvas = document.createElement('canvas');
  canvas.width = box.w;
  canvas.height = box.h;
  canvas.style.left = box.x + 'px';
  canvas.style.top = box.y + 'px';
  canvas.style.width = box.w + 'px';
  canvas.style.height = box.h + 'px';
  page.appendChild(canvas);

  new Chart(canvas, {
    type: 'line',
    data: { datasets: buildDatasets(k) },
    options: {
      responsive: false,
      animation: false,
      events: [],
      layout: {
        padding: {
          left: L.area[0] - box.x - Y_AXIS_W,
          top: L.area[1] - box.y,
          right: box.x + box.w - L.area[2],
          bottom: box.y + box.h - L.area[3] - X_AXIS_H
        }
      },
      plugins: { legend: { display: false }, tooltip: { enabled: false } },
      scales: {
        x: {
          type: 'linear', min: 1900, max: 2020,
          afterBuildTicks: s => { s.ticks = X_TICKS.map(v => ({ value: v })); },
          afterFit: s => { s.height = X_AXIS_H; },
          grid: { display: false, drawTicks: false },
          border: { display: false },
          ticks: { autoSkip: false, maxRotation: 0, padding: 8, color: '#000',
                   font: { size: 18, family: SERIF }, callback: v => String(v) }
        },
        y: {
          min: -2, max: 2,
          afterBuildTicks: s => { s.ticks = Y_TICKS.map(v => ({ value: v })); },
          afterFit: s => { s.width = Y_AXIS_W; },
          grid: { drawOnChartArea: false, drawTicks: true, tickLength: 5, color: AXIS_GRAY, lineWidth: 2 },
          border: { display: true, color: AXIS_GRAY, width: 2 },
          ticks: { padding: 3, color: '#000', font: { size: 18, family: SERIF }, callback: v => String(v) }
        }
      }
    },
    plugins: [decorFor(k, box)]
  });
});
</script>
</body>
</html>
